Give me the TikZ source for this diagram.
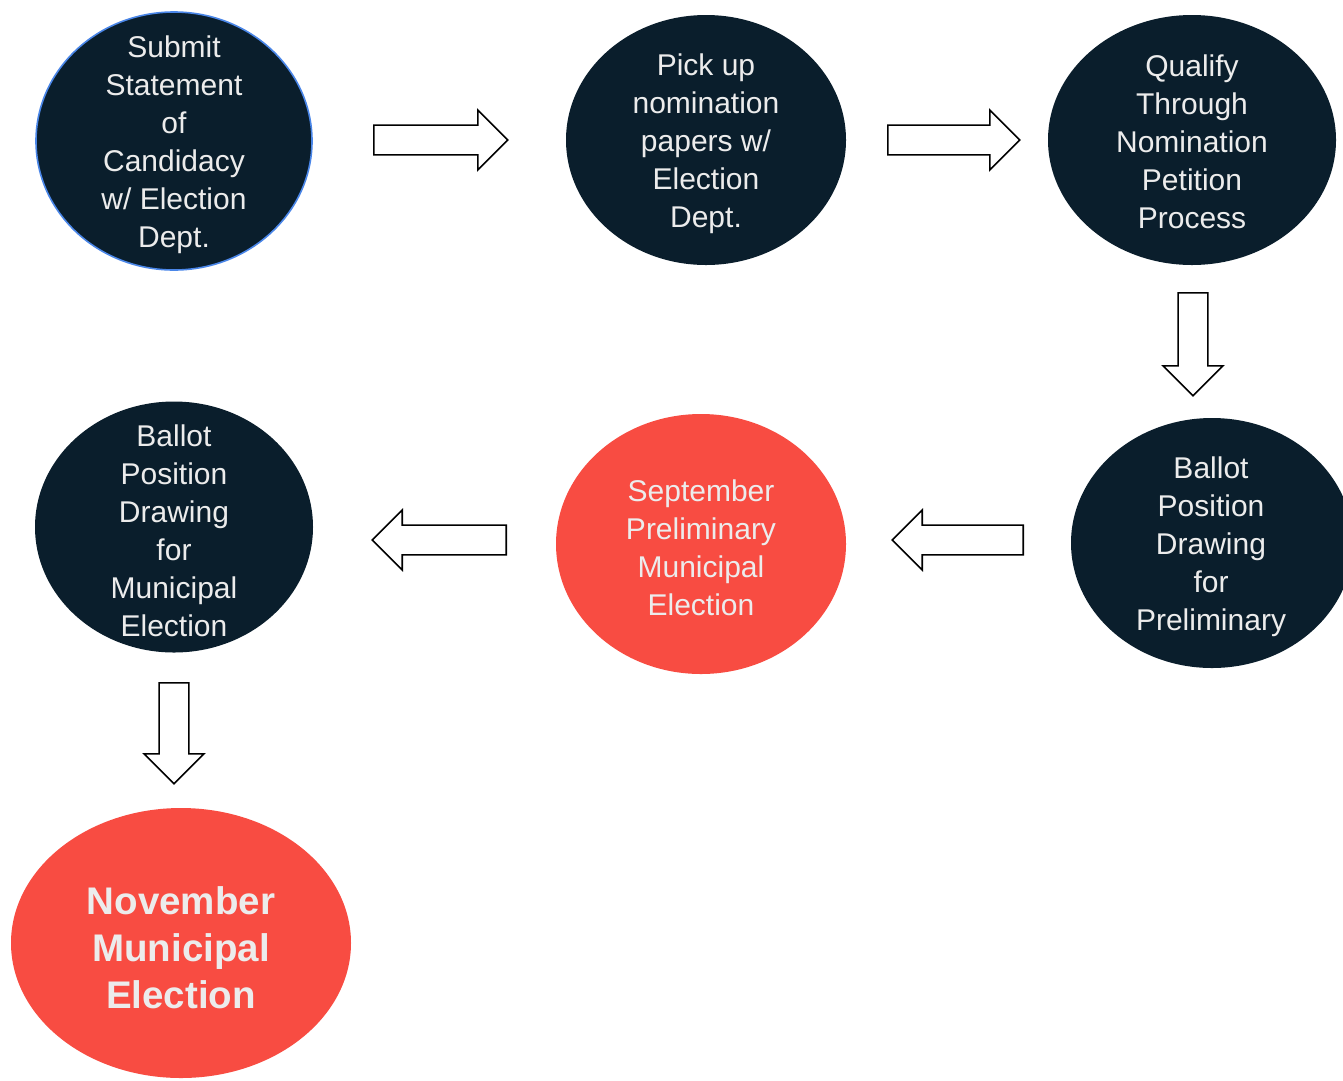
\documentclass[tikz,border=0pt]{standalone}
\usepackage{fontspec}
\setmainfont{Liberation Sans}
\usetikzlibrary{shapes.geometric,shapes.arrows}
\definecolor{navy}{HTML}{0A1E2C}
\definecolor{tomato}{HTML}{F84C42}
\definecolor{pale}{HTML}{ECECEC}
\definecolor{edgeblue}{HTML}{4A86E8}
\tikzset{
  darkell/.style={ellipse, fill=navy, draw=none, inner sep=0pt},
  redell/.style={ellipse, fill=tomato, draw=none, inner sep=0pt},
  lbl/.style={text=pale, align=center, inner sep=0pt, font=\fontsize{30}{38}\selectfont},
  biglbl/.style={text=pale, align=center, inner sep=0pt, font=\fontsize{38.5}{47}\selectfont\bfseries},
  blockarrow/.style={single arrow, draw=black, fill=white, line width=1.6pt,
    inner sep=14pt, minimum width=60pt, single arrow head extend=15pt,
    single arrow tip angle=90, single arrow head indent=0pt, anchor=tail},
}
\begin{document}
\begin{tikzpicture}[x=1pt,y=-1pt]
\path[use as bounding box, fill=white] (0,0) rectangle (1343,1080);

% ellipses
\node[darkell, draw=edgeblue, line width=1.6pt, minimum width=276pt, minimum height=258pt] (e1) at (174,141) {};
\node[darkell, minimum width=280pt, minimum height=250pt] (e2) at (706,140) {};
\node[darkell, minimum width=288pt, minimum height=250pt] (e3) at (1192,140) {};
\node[darkell, minimum width=282pt, minimum height=250pt] (e4) at (1212,543) {};
\node[redell, minimum width=290pt, minimum height=260pt] (e5) at (701,544) {};
\node[darkell, minimum width=278pt, minimum height=251pt] (e6) at (174,527) {};
\node[redell, minimum width=340pt, minimum height=270pt] (e7) at (181,943) {};

% labels
\node[lbl] (t1) at ([yshift=-4pt]e1.center) {Submit\\Statement\\of\\Candidacy\\w/ Election\\Dept.};
\node[lbl] (t2) at ([yshift=-4pt]e2.center) {Pick up\\nomination\\papers w/\\Election\\Dept.};
\node[lbl] (t3) at ([yshift=-2pt]e3.center) {Qualify\\Through\\Nomination\\Petition\\Process};
\node[lbl] (t4) at ([xshift=-1pt,yshift=-4pt]e4.center) {Ballot\\Position\\Drawing\\for\\Preliminary};
\node[lbl] (t5) at ([yshift=-4pt]e5.center) {September\\Preliminary\\Municipal\\Election};
\node[lbl] (t6) at ([yshift=-4pt]e6.center) {Ballot\\Position\\Drawing\\for\\Municipal\\Election};
\node[biglbl] (t7) at ([yshift=-5pt]e7.center) {November\\Municipal\\Election};

% block arrows (placed by their tails)
\node[blockarrow, minimum height=134pt] (a1) at (373,140) {};
\node[blockarrow, minimum height=132pt] (a2) at (887,140) {};
\node[blockarrow, minimum height=103pt, rotate=-90] (a3) at (1193,292) {};
\node[blockarrow, minimum height=131pt, rotate=180] (a4) at (1024,540) {};
\node[blockarrow, minimum height=134pt, rotate=180] (a5) at (507,540) {};
\node[blockarrow, minimum height=101pt, rotate=-90] (a6) at (174,682) {};
\end{tikzpicture}
\end{document}
